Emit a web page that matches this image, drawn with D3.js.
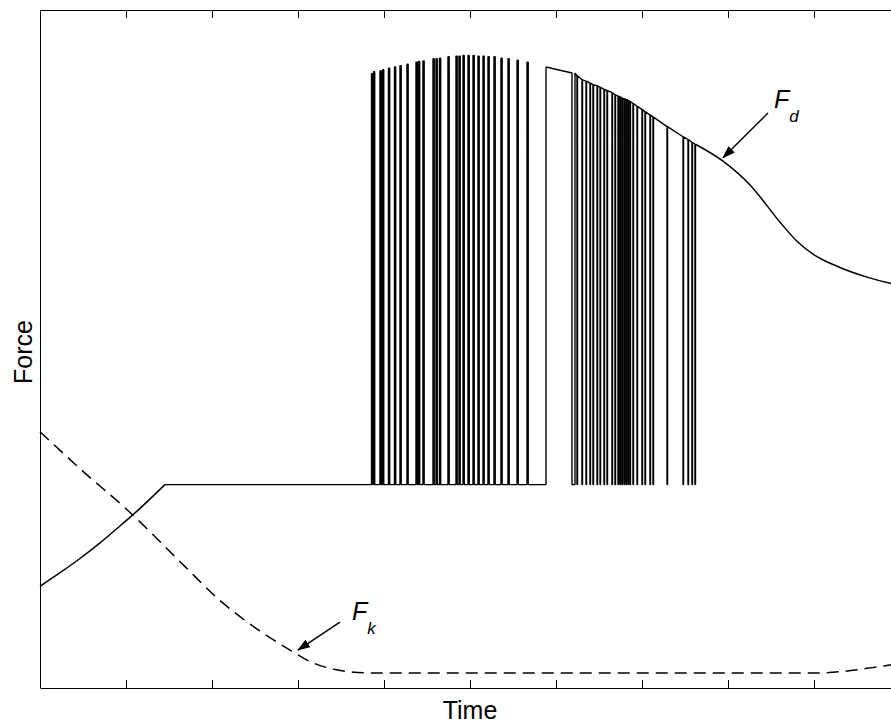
<!DOCTYPE html>
<html>
<head>
<meta charset="utf-8">
<script src="https://cdn.jsdelivr.net/npm/d3@7"></script>
<style>
body { margin: 0; background: #fff; }
svg { display: block; }
text { font-family: "Liberation Sans", Arial, Helvetica, sans-serif; fill: #000; }
</style>
</head>
<body>
<svg id="chart" width="891" height="724"></svg>
<script>
// Fd ramp before sliding starts
var rampTime  = [0, 0.233, 0.465, 0.698, 0.930, 1.163, 1.453];
var rampForce = [15.0, 17.0, 19.1, 21.4, 23.9, 26.5, 30.0];
var baseForce = 30.0;

// first chatter block: short pulses up from the base level
var pulseTimes = [3.855, 3.878, 3.953, 3.983, 4.052, 4.122, 4.186, 4.267, 4.372, 4.401,
                  4.453, 4.570, 4.605, 4.645, 4.744, 4.837, 4.872, 4.919, 4.977, 5.035,
                  5.093, 5.151, 5.209, 5.279, 5.360, 5.442, 5.547, 5.663];
var pulseTops  = [90.6, 90.9, 91.0, 91.2, 91.4, 91.6, 91.8, 92.0, 92.3, 92.4,
                  92.5, 92.8, 92.8, 92.9, 93.1, 93.2, 93.2, 93.3, 93.3, 93.3,
                  93.2, 93.2, 93.1, 93.1, 92.9, 92.8, 92.6, 92.3];
var pulseWidth = 0.014;

// second chatter block: held on the envelope, short dips down to base
var holdStart = 5.884;
var holdTop   = 91.6;
var dipTimes = [6.186, 6.244, 6.302, 6.349, 6.395, 6.430, 6.477, 6.512, 6.558, 6.593, 6.651,
                6.686, 6.721, 6.744, 6.767, 6.791, 6.814, 6.837, 6.860, 6.895, 6.942,
                7.000, 7.035, 7.093, 7.128, 7.291, 7.477, 7.535, 7.581, 7.616];
var dipEnds  = [6.221, 6.250, 6.308, 6.355, 6.401, 6.436, 6.483, 6.518, 6.564, 6.599, 6.657,
                6.692, 6.727, 6.750, 6.773, 6.797, 6.820, 6.843, 6.866, 6.901, 6.948,
                7.006, 7.041, 7.099, 7.134, 7.297, 7.483, 7.541, 7.587, 7.622];
var dipTops  = [90.7, 90.3, 89.7, 89.5, 89.2, 89.0, 88.8, 88.6, 88.3, 88.1, 87.8,
                87.5, 87.3, 87.2, 87.0, 86.9, 86.8, 86.7, 86.5, 86.2, 85.8,
                85.3, 85.0, 84.5, 84.2, 82.8, 81.3, 80.9, 80.5, 80.2];

// Fd after chattering stops
var tailTime  = [7.622, 7.942, 8.256, 8.605, 8.802, 8.988, 9.267, 9.616, 9.884, 10];
var tailForce = [80.2, 77.7, 74.2, 68.7, 65.9, 64.0, 62.2, 60.6, 59.7, 59.4];

// Fk (dashed)
var fkTime  = [0, 0.523, 1.012, 1.686, 2.058, 2.593, 2.907, 3.174, 3.407, 3.605, 3.953,
               9.012, 9.302, 9.616, 9.884, 10];
var fkForce = [37.8, 31.7, 26.3, 17.9, 13.3, 8.1, 5.6, 3.7, 2.8, 2.4, 2.2,
               2.2, 2.4, 2.9, 3.4, 3.7];

// annotations
var labelNames = ["F", "F"];
var labelSubs  = ["d", "k"];
var labelTime  = [8.535, 3.628];
var labelForce = [85.5, 9.96];
var arrowFrom  = [[8.465, 84.8], [3.488, 9.73]];
var arrowTo    = [[7.942, 78.2], [3.0, 5.6]];

var svg = d3.select("#chart");
var mLeft = 40, mRight = 900, mTop = 10, mBottom = 688;

var x = d3.scaleLinear().domain([0, 10]).range([mLeft, mRight]);
var y = d3.scaleLinear().domain([0, 100]).range([mBottom, mTop]);

// box and ticks
svg.append("g")
    .attr("transform", `translate(0,${mBottom})`)
    .call(d3.axisBottom(x).ticks(10).tickFormat("").tickSizeInner(-8).tickSizeOuter(0))
    .call(g => g.select(".domain").attr("stroke", "#000"));
svg.append("g")
    .attr("transform", `translate(0,${mTop})`)
    .call(d3.axisTop(x).ticks(10).tickFormat("").tickSizeInner(-8).tickSizeOuter(0))
    .call(g => g.select(".domain").attr("stroke", "#000"));
svg.append("line")
    .attr("x1", mLeft + 0.5).attr("x2", mLeft + 0.5)
    .attr("y1", mTop).attr("y2", mBottom)
    .attr("stroke", "#000");

// Fd pieces
var line = d3.line().x(d => x(d[0])).y(d => y(d[1]));
var smooth = d3.line().x(d => x(d[0])).y(d => y(d[1])).curve(d3.curveMonotoneX);

var ramp = rampTime.map((t, i) => [t, rampForce[i]]);
svg.append("path")
    .attr("d", smooth(ramp))
    .attr("fill", "none").attr("stroke", "#000").attr("stroke-width", 1.5);

var pts = [[rampTime[rampTime.length - 1], baseForce]];
pulseTimes.forEach(function(t, i) {
    pts.push([t, baseForce], [t, pulseTops[i]], [t + pulseWidth, pulseTops[i]], [t + pulseWidth, baseForce]);
});
pts.push([holdStart, baseForce], [holdStart, holdTop]);
dipTimes.forEach(function(t, i) {
    pts.push([t, dipTops[i]], [t, baseForce], [dipEnds[i], baseForce], [dipEnds[i], dipTops[i]]);
});
pts.push([tailTime[0], tailForce[0]]);

svg.append("path")
    .attr("d", line(pts))
    .attr("fill", "none").attr("stroke", "#000").attr("stroke-width", 1.4)
    .attr("stroke-linejoin", "bevel");

var tail = tailTime.map((t, i) => [t, tailForce[i]]);
svg.append("path")
    .attr("d", smooth(tail))
    .attr("fill", "none").attr("stroke", "#000").attr("stroke-width", 1.5);

// Fk dashed
var fk = fkTime.map((t, i) => [t, fkForce[i]]);
svg.append("path")
    .attr("d", smooth(fk))
    .attr("fill", "none").attr("stroke", "#000").attr("stroke-width", 1.5)
    .attr("stroke-dasharray", "12,7");

// arrows
svg.append("defs").append("marker")
    .attr("id", "head")
    .attr("markerUnits", "userSpaceOnUse")
    .attr("viewBox", "0 0 13 9")
    .attr("refX", 12).attr("refY", 4.5)
    .attr("markerWidth", 13).attr("markerHeight", 9)
    .attr("orient", "auto")
    .append("path").attr("d", "M0,0 L13,4.5 L0,9 Z").attr("fill", "#000");

arrowFrom.forEach(function(a, i) {
    svg.append("line")
        .attr("x1", x(a[0])).attr("y1", y(a[1]))
        .attr("x2", x(arrowTo[i][0])).attr("y2", y(arrowTo[i][1]))
        .attr("stroke", "#000").attr("stroke-width", 1.5)
        .attr("marker-end", "url(#head)");
});

labelNames.forEach(function(n, i) {
    var t = svg.append("text")
        .attr("x", x(labelTime[i])).attr("y", y(labelForce[i]))
        .attr("font-size", 25).attr("font-style", "italic");
    t.append("tspan").text(n);
    t.append("tspan").attr("dy", 14).attr("font-size", 17).text(labelSubs[i]);
});

// axis titles
svg.append("text")
    .attr("x", 470).attr("y", 719)
    .attr("text-anchor", "middle").attr("font-size", 25)
    .text("Time");
svg.append("text")
    .attr("transform", "translate(32,352) rotate(-90)")
    .attr("text-anchor", "middle").attr("font-size", 25)
    .text("Force");
</script>
</body>
</html>
